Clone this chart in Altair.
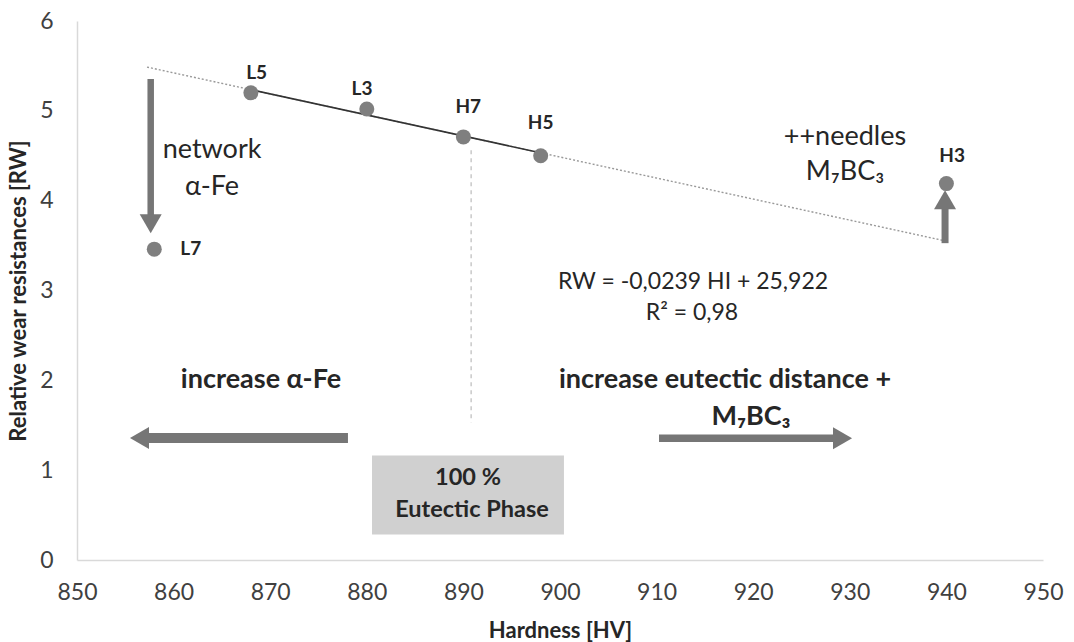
import altair as alt
import pandas as pd

FONT = "Lato, 'Noto Sans', 'DejaVu Sans', sans-serif"
TXT = "#262626"

# ---- measured samples ----
sample_names = ["L7", "L5", "L3", "H7", "H5", "H3"]
sample_hv = [858, 868, 880, 890, 898, 940]
sample_rw = [3.46, 5.20, 5.02, 4.71, 4.50, 4.19]

# point label anchors
label_hv = [860.7, 868.6, 879.5, 890.5, 898.0, 940.6]
label_rw = [3.46, 5.42, 5.24, 5.04, 4.87, 4.50]
label_align = ["left", "center", "center", "center", "center", "center"]

# regression (solid over fitted samples, dotted extension)
fit_hv = [868.1, 897.6]
fit_rw = [5.233, 4.542]
ext_hv = [857.25, 939.54]
ext_rw = [5.487, 3.560]

# vertical dashed divider
div_hv = [890.8]
div_rw_top = [4.56]
div_rw_bot = [1.53]

# 100 % eutectic box
box_hv = [880.54, 900.41]
box_rw = [0.284, 1.164]

# arrows: body start/end and head
arrow_x1 = [857.63, 939.86, 878.05, 910.25]
arrow_x2 = [857.63, 939.86, 856.47, 929.25]
arrow_y1 = [5.354, 3.527, 1.359, 1.354]
arrow_y2 = [3.744, 4.011, 1.359, 1.354]
arrow_w = [6.5, 7, 10, 7.5]
arrow_head = ["triangle-down", "triangle-up", "triangle-left", "triangle-right"]

# annotation texts
reg_text = ["network", "α-Fe", "++needles", "M₇BC₃"]
reg_hv = [863.98, 863.98, 929.5, 929.5]
reg_rw = [4.563, 4.150, 4.708, 4.318]

eq_text = ["RW = -0,0239 HI + 25,922", "R² = 0,98"]
eq_hv = [913.77, 913.66]
eq_rw = [3.092, 2.747]

bold_text = ["increase α-Fe", "increase eutectic distance +", "M₇BC₃"]
bold_hv = [869.05, 917.08, 919.77]
bold_rw = [2.0, 2.0, 1.588]

box_text = ["100 %", "Eutectic Phase"]
box_text_hv = [890.48, 890.89]
box_text_rw = [0.908, 0.552]

x_ticks = list(range(850, 951, 10))
y_ticks = list(range(0, 7))

xs = alt.Scale(domain=[850, 950], nice=False, zero=False)
ys = alt.Scale(domain=[0, 6], nice=False)

x_axis = alt.Axis(
    values=x_ticks, grid=False, ticks=False, domainColor="#d9d9d9", domainWidth=1.5,
    labelFont=FONT, labelFontSize=23, labelColor="#404040", labelPadding=21,
    labelFlush=False, labelOverlap=False,
    title="Hardness [HV]", titleFont=FONT, titleFontSize=22, titleFontWeight="bold",
    titleColor=TXT, titleBaseline="middle", titleY=70,
)
y_axis = alt.Axis(
    values=y_ticks, grid=False, ticks=False, domainColor="#d9d9d9", domainWidth=1.5,
    labelFont=FONT, labelFontSize=23, labelColor="#404040", labelPadding=24,
    labelFlush=False, labelOverlap=False,
    title="Relative wear resistances [RW]", titleFont=FONT, titleFontSize=22,
    titleFontWeight="bold", titleColor=TXT, titleBaseline="middle",
    titleX=-59, titleY=269.5, titleAngle=-90,
)


def X(field):
    return alt.X(field, scale=xs, axis=x_axis, title="Hardness [HV]")


def Y(field):
    return alt.Y(field, scale=ys, axis=y_axis, title="Relative wear resistances [RW]")


# data frames
pts = pd.DataFrame({"hv": sample_hv, "rw": sample_rw, "name": sample_names})
lbl = pd.DataFrame({"hv": label_hv, "rw": label_rw, "name": sample_names, "al": label_align})
fit = pd.DataFrame({"hv": fit_hv, "rw": fit_rw})
ext = pd.DataFrame({"hv": ext_hv, "rw": ext_rw})
div = pd.DataFrame({"hv": div_hv, "rw": div_rw_top, "y2": div_rw_bot})
box = pd.DataFrame({"hv": [box_hv[0]], "x2": [box_hv[1]], "rw": [box_rw[0]], "y2": [box_rw[1]]})
arr = pd.DataFrame({"hv": arrow_x1, "x2": arrow_x2, "rw": arrow_y1, "y2": arrow_y2,
                    "w": arrow_w, "head": arrow_head})
heads = pd.DataFrame({"hv": arrow_x2, "rw": arrow_y2, "head": arrow_head})
reg = pd.DataFrame({"hv": reg_hv, "rw": reg_rw, "t": reg_text})
eq = pd.DataFrame({"hv": eq_hv, "rw": eq_rw, "t": eq_text})
bld = pd.DataFrame({"hv": bold_hv, "rw": bold_rw, "t": bold_text})
btx = pd.DataFrame({"hv": box_text_hv, "rw": box_text_rw, "t": box_text})

base_ext = alt.Chart(ext).mark_line(color="#999999", strokeWidth=1.4, strokeDash=[2, 2]).encode(
    x=X("hv:Q"), y=Y("rw:Q"))
fit_line = alt.Chart(fit).mark_line(color="#333333", strokeWidth=1.6).encode(
    x=X("hv:Q"), y=Y("rw:Q"))

div_rule = alt.Chart(div).mark_rule(color="#c0c0c0", strokeWidth=1.3, strokeDash=[4, 4]).encode(
    x=X("hv:Q"), y=Y("rw:Q"), y2="y2:Q")

box_rect = alt.Chart(box).mark_rect(color="#d0d0d0").encode(
    x=X("hv:Q"), x2="x2:Q", y=Y("rw:Q"), y2="y2:Q")

arrow_body = alt.Chart(arr).mark_rule(color="#767676").encode(
    x=X("hv:Q"), x2="x2:Q", y=Y("rw:Q"), y2="y2:Q",
    strokeWidth=alt.StrokeWidth("w:Q", scale=None, legend=None))

arrow_heads = alt.Chart(heads).mark_point(filled=True, color="#767676", opacity=1, size=484,
                                          strokeWidth=0).encode(
    x=X("hv:Q"), y=Y("rw:Q"),
    shape=alt.Shape("head:N", scale=None, legend=None))

points = alt.Chart(pts).mark_circle(color="#7f7f7f", opacity=1, size=225).encode(
    x=X("hv:Q"), y=Y("rw:Q"))

lbl_c = alt.Chart(lbl).transform_filter(alt.datum.al == "center").mark_text(
    font=FONT, fontSize=19, fontWeight="bold", color=TXT, align="center", baseline="middle").encode(
    x=X("hv:Q"), y=Y("rw:Q"), text="name:N")
lbl_l = alt.Chart(lbl).transform_filter(alt.datum.al == "left").mark_text(
    font=FONT, fontSize=19, fontWeight="bold", color=TXT, align="left", baseline="middle").encode(
    x=X("hv:Q"), y=Y("rw:Q"), text="name:N")

reg_t = alt.Chart(reg).mark_text(font=FONT, fontSize=27, color=TXT, align="center",
                                 baseline="middle").encode(
    x=X("hv:Q"), y=Y("rw:Q"), text="t:N")
eq_t = alt.Chart(eq).mark_text(font=FONT, fontSize=23, color=TXT, align="center",
                               baseline="middle").encode(
    x=X("hv:Q"), y=Y("rw:Q"), text="t:N")
bld_t = alt.Chart(bld).mark_text(font=FONT, fontSize=27, fontWeight="bold", color=TXT,
                                 align="center", baseline="middle").encode(
    x=X("hv:Q"), y=Y("rw:Q"), text="t:N")
btx_t = alt.Chart(btx).mark_text(font=FONT, fontSize=23.5, fontWeight="bold", color=TXT,
                                 align="center", baseline="middle").encode(
    x=X("hv:Q"), y=Y("rw:Q"), text="t:N")

chart = alt.layer(
    base_ext, div_rule, box_rect, arrow_body, arrow_heads, fit_line, points,
    lbl_c, lbl_l, reg_t, eq_t, bld_t, btx_t,
).properties(
    width=966, height=539,
    padding={"left": 77, "top": 21, "right": 31, "bottom": 82},
    autosize=alt.AutoSizeParams(type="none"),
    background="white",
).configure_view(stroke=None)

chart.save("out.html", embed_options={"renderer": "svg", "actions": False})
